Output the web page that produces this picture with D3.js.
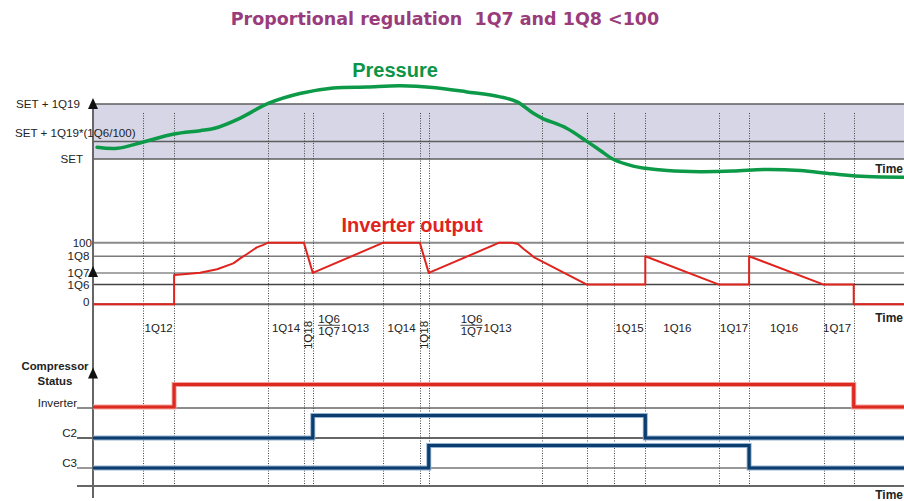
<!DOCTYPE html>
<html>
<head>
<meta charset="utf-8">
<script src="https://cdn.jsdelivr.net/npm/d3@7"></script>
<style>
  html, body { margin: 0; padding: 0; background: #fff; }
  svg { display: block; font-family: "Liberation Sans", Arial, sans-serif; }
</style>
</head>
<body>
<svg id="chart" width="904" height="501"></svg>
<script>
// ---- data -------------------------------------------------------------
// time runs on an arbitrary 0..100 scale
const eventTimes = [6.2, 10, 21.6, 26, 27.1, 35.8, 40.3, 41.4, 55.4, 60.9, 64.2, 68.1, 77.2, 80.9, 90.1, 93.8];

// pressure, in % of 1Q19 above SET
const pressureTicks = [0, 32, 100];
const pressureTickLabels = ["SET", "SET + 1Q19*(1Q6/100)", "SET + 1Q19"];
const pressureSeries = [
  [0.5, 21.3], [3.0, 19.4], [6.2, 31], [10, 45.5], [13.2, 51.5], [15.0, 55.8], [18.1, 74],
  [21.6, 101], [25.5, 119], [29.6, 129], [33.8, 131], [37.9, 133], [41.9, 130], [46.1, 122],
  [50.2, 113], [52.3, 104], [54.3, 83], [55.4, 74], [58.4, 56], [60.9, 32], [62.5, 16],
  [64.2, -1], [66.6, -13], [68.1, -17], [70.8, -21], [74.8, -23], [78.9, -22], [83.1, -19],
  [87.2, -21], [91.2, -27], [95.4, -32], [100, -33]
];

// inverter output, in %
const inverterTicks = [0, 32, 51, 78, 100];
const inverterTickLabels = ["0", "1Q6", "1Q7", "1Q8", "100"];
const inverterSeries = [
  [0, 0], [10, 0], [10, 47.6], [11.5, 49.2], [13.2, 51.3], [15.3, 56.8], [17.3, 66.5], [18.2, 75],
  [19.0, 81.7], [20.2, 92.5], [21.0, 96.5], [21.6, 100],
  [26, 100], [27.1, 51], [35.8, 100], [40.3, 100], [41.4, 51], [50.1, 100], [51.7, 100],
  [52.4, 97.9], [53.1, 89.8], [53.9, 81.7], [54.4, 76], [60.9, 32],
  [68.1, 32], [68.1, 78], [77.2, 32], [80.9, 32], [80.9, 78], [90.1, 32], [93.8, 32], [93.8, 0], [100, 0]
];

// interval annotations under the inverter output
const intervalLabels = [
  { text: "1Q12", from: 6.2, to: 10 },
  { text: "1Q14", from: 21.6, to: 26 },
  { text: "1Q18", from: 26, to: 27.1, vertical: true },
  { text: "1Q13", from: 27.1, to: 35.8, num: "1Q6", den: "1Q7" },
  { text: "1Q14", from: 35.8, to: 40.3 },
  { text: "1Q18", from: 40.3, to: 41.4, vertical: true },
  { text: "1Q13", from: 41.4, to: 55.4, num: "1Q6", den: "1Q7" },
  { text: "1Q15", from: 64.2, to: 68.1 },
  { text: "1Q16", from: 68.1, to: 76.0 },
  { text: "1Q17", from: 77.2, to: 80.9 },
  { text: "1Q16", from: 80.9, to: 89.5 },
  { text: "1Q17", from: 90.1, to: 93.4 }
];

// compressor status: [switch-on time, switch-off time]
const statusRows = ["Inverter", "C2", "C3"];
const inverterOn = [10, 93.8];
const c2On = [27.1, 68.1];
const c3On = [41.4, 80.9];

// ---- scales -----------------------------------------------------------
const W = 904, H = 501;
const svg = d3.select("#chart");
const x = d3.scaleLinear().domain([0, 100]).range([93, W]);
const yP = d3.scaleLinear().domain([0, 100]).range([159, 104]);
const yI = d3.scaleLinear().domain([0, 100]).range([304.3, 242.7]);
const yS = d3.scalePoint().domain(statusRows).range([408, 468]);
const rise = 22.5;
const axisX = x(0);
const gridTop = 113, gridBottom = 486;

// ---- title ------------------------------------------------------------
svg.append("text")
  .attr("x", 445).attr("y", 25)
  .attr("text-anchor", "middle")
  .style("white-space", "pre")
  .style("font-family", "'DejaVu Sans', Verdana, sans-serif")
  .style("font-weight", "bold").style("font-size", "17.5px")
  .attr("fill", "#9a3c7b")
  .text("Proportional regulation  1Q7 and 1Q8 <100");

// ---- pressure band ----------------------------------------------------
svg.append("rect")
  .attr("x", axisX).attr("y", yP(100))
  .attr("width", W - axisX).attr("height", yP(0) - yP(100))
  .attr("fill", "#d6d6e6");

svg.append("g").selectAll("line").data(pressureTicks).join("line")
  .attr("x1", axisX).attr("x2", W)
  .attr("y1", d => yP(d)).attr("y2", d => yP(d))
  .attr("stroke", "#5e5e5e").attr("stroke-width", 1.5);

// ---- inverter grid lines ----------------------------------------------
const invGridColor = ["#666", "#444", "#8a8a8a", "#7a7a7a", "#8a8a8a"];
svg.append("g").selectAll("line").data(inverterTicks).join("line")
  .attr("x1", axisX).attr("x2", W)
  .attr("y1", d => yI(d)).attr("y2", d => yI(d))
  .attr("stroke", (d, i) => invGridColor[i])
  .attr("stroke-width", (d, i) => (i === 0 || i === 4) ? 2 : 1.5);

// ---- compressor status base lines -------------------------------------
const baseColor = { Inverter: "#666", C2: "#333", C3: "#999" };
svg.append("g").selectAll("line").data(statusRows).join("line")
  .attr("x1", axisX - 16).attr("x2", W)
  .attr("y1", d => yS(d)).attr("y2", d => yS(d))
  .attr("stroke", d => baseColor[d])
  .attr("stroke-width", d => d === "C3" ? 2 : 1.3);

svg.append("line")
  .attr("x1", axisX - 16).attr("x2", W)
  .attr("y1", gridBottom).attr("y2", gridBottom)
  .attr("stroke", "#333").attr("stroke-width", 1.5);

// ---- event markers ----------------------------------------------------
svg.append("g").selectAll("line").data(eventTimes).join("line")
  .attr("x1", d => Math.round(x(d)) + 0.5).attr("x2", d => Math.round(x(d)) + 0.5)
  .attr("y1", gridTop).attr("y2", gridBottom)
  .attr("stroke", "#444").attr("stroke-width", 1)
  .attr("stroke-dasharray", "1,1.5");

// ---- vertical axis with arrowheads ------------------------------------
svg.append("line")
  .attr("x1", axisX).attr("x2", axisX)
  .attr("y1", yP(100) - 4).attr("y2", 498)
  .attr("stroke", "#666").attr("stroke-width", 2);

const arrowTips = [yP(100) - 6, yI(51) - 7, yS("Inverter") - rise - 18];
svg.append("g").selectAll("path").data(arrowTips).join("path")
  .attr("d", t => `M${axisX},${t} L${axisX - 5},${t + 11} L${axisX + 5},${t + 11} Z`)
  .attr("fill", "#111");

// ---- pressure curve ---------------------------------------------------
svg.append("path")
  .datum(pressureSeries)
  .attr("d", d3.line().x(d => x(d[0])).y(d => yP(d[1])).curve(d3.curveCatmullRom.alpha(0.5)))
  .attr("fill", "none").attr("stroke", "#0c9a48")
  .attr("stroke-width", 3.5).attr("stroke-linecap", "round");

svg.append("text")
  .attr("x", 395).attr("y", 77).attr("text-anchor", "middle")
  .style("font-weight", "bold").style("font-size", "20px")
  .attr("fill", "#0c9447").text("Pressure");

// ---- inverter output curve --------------------------------------------
svg.append("path")
  .datum(inverterSeries)
  .attr("d", d3.line().x(d => x(d[0])).y(d => yI(d[1])))
  .attr("fill", "none").attr("stroke", "#e0231d")
  .attr("stroke-width", 2).attr("stroke-linejoin", "round");

svg.append("text")
  .attr("x", 412).attr("y", 232).attr("text-anchor", "middle")
  .style("font-weight", "bold").style("font-size", "20px")
  .attr("fill", "#e0231d").text("Inverter output");

// ---- compressor status steps ------------------------------------------
function stepPoints(on) {
  return [[0, 0], [on[0], 0], [on[0], 1], [on[1], 1], [on[1], 0], [100, 0]];
}
const statusData = [
  { row: "Inverter", on: inverterOn, halo: "#f2a29c", core: "#dd2a21" },
  { row: "C2", on: c2On, halo: "#93b1d0", core: "#0b3d6e" },
  { row: "C3", on: c3On, halo: "#93b1d0", core: "#0b3d6e" }
];
statusData.forEach(s => {
  const line = d3.line()
    .x(d => x(d[0]))
    .y(d => yS(s.row) - (s.row === "Inverter" ? 1 : 0) - d[1] * rise);
  svg.append("path").datum(stepPoints(s.on)).attr("d", line)
    .attr("fill", "none").attr("stroke", s.halo).attr("stroke-width", 5);
  svg.append("path").datum(stepPoints(s.on)).attr("d", line)
    .attr("fill", "none").attr("stroke", s.core).attr("stroke-width", 3.2);
});

// ---- tick labels ------------------------------------------------------
const tickFont = "11.6px";
svg.append("g").selectAll("text").data(pressureTicks).join("text")
  .attr("x", (d, i) => i === 1 ? 15 : (i === 0 ? 83 : 80))
  .attr("y", (d, i) => i === 1 ? yP(d) - 4.5 : yP(d) + 4)
  .attr("text-anchor", (d, i) => i === 1 ? "start" : "end")
  .style("font-size", tickFont).attr("fill", "#222")
  .text((d, i) => pressureTickLabels[i]);

svg.append("g").selectAll("text").data(inverterTicks).join("text")
  .attr("x", (d, i) => i === 4 ? 92 : 89.5)
  .attr("y", (d, i) => i === 0 ? yI(d) + 1.5 : yI(d) + 4.2)
  .attr("text-anchor", "end")
  .style("font-size", tickFont).attr("fill", "#222")
  .text((d, i) => inverterTickLabels[i]);

// status labels
svg.append("text").attr("x", 55).attr("y", 370).attr("text-anchor", "middle")
  .style("font-weight", "bold").style("font-size", "11.4px").attr("fill", "#222").text("Compressor");
svg.append("text").attr("x", 55).attr("y", 385).attr("text-anchor", "middle")
  .style("font-weight", "bold").style("font-size", "11.4px").attr("fill", "#222").text("Status");
svg.append("g").selectAll("text").data(statusRows).join("text")
  .attr("x", axisX - 16).attr("y", d => yS(d) - 1)
  .attr("text-anchor", "end")
  .style("font-size", tickFont).attr("fill", "#222")
  .text(d => d);

// "Time" captions at the right edge
[yP(0) + 14, yI(0) + 17.7, H - 2].forEach(yy => {
  svg.append("text")
    .attr("x", W - 1).attr("y", yy).attr("text-anchor", "end")
    .style("font-weight", "bold").style("font-size", "12px")
    .attr("fill", "#222").text("Time");
});

// ---- interval annotations ---------------------------------------------
const annY = 332;
const annG = svg.append("g").style("font-size", "11.5px").attr("fill", "#222");
intervalLabels.forEach(a => {
  const mid = (x(a.from) + x(a.to)) / 2;
  if (a.vertical) {
    annG.append("text")
      .attr("transform", `translate(${mid + 4},${335}) rotate(-90)`)
      .attr("text-anchor", "middle").text(a.text);
  } else if (a.num) {
    const fw = 22, tw = 28;
    const left = mid - (fw + tw) / 2 - (a.from < 30 ? 5 : 0);
    const fc = left + fw / 2;
    annG.append("text").attr("x", fc).attr("y", 323).attr("text-anchor", "middle").text(a.num);
    annG.append("line").attr("x1", left).attr("x2", left + fw)
      .attr("y1", 325.3).attr("y2", 325.3).attr("stroke", "#222").attr("stroke-width", 0.8);
    annG.append("text").attr("x", fc).attr("y", 334.5).attr("text-anchor", "middle").text(a.den);
    annG.append("text").attr("x", left + fw + 1).attr("y", annY).attr("text-anchor", "start").text(a.text);
  } else {
    annG.append("text").attr("x", mid).attr("y", annY).attr("text-anchor", "middle").text(a.text);
  }
});
</script>
</body>
</html>
